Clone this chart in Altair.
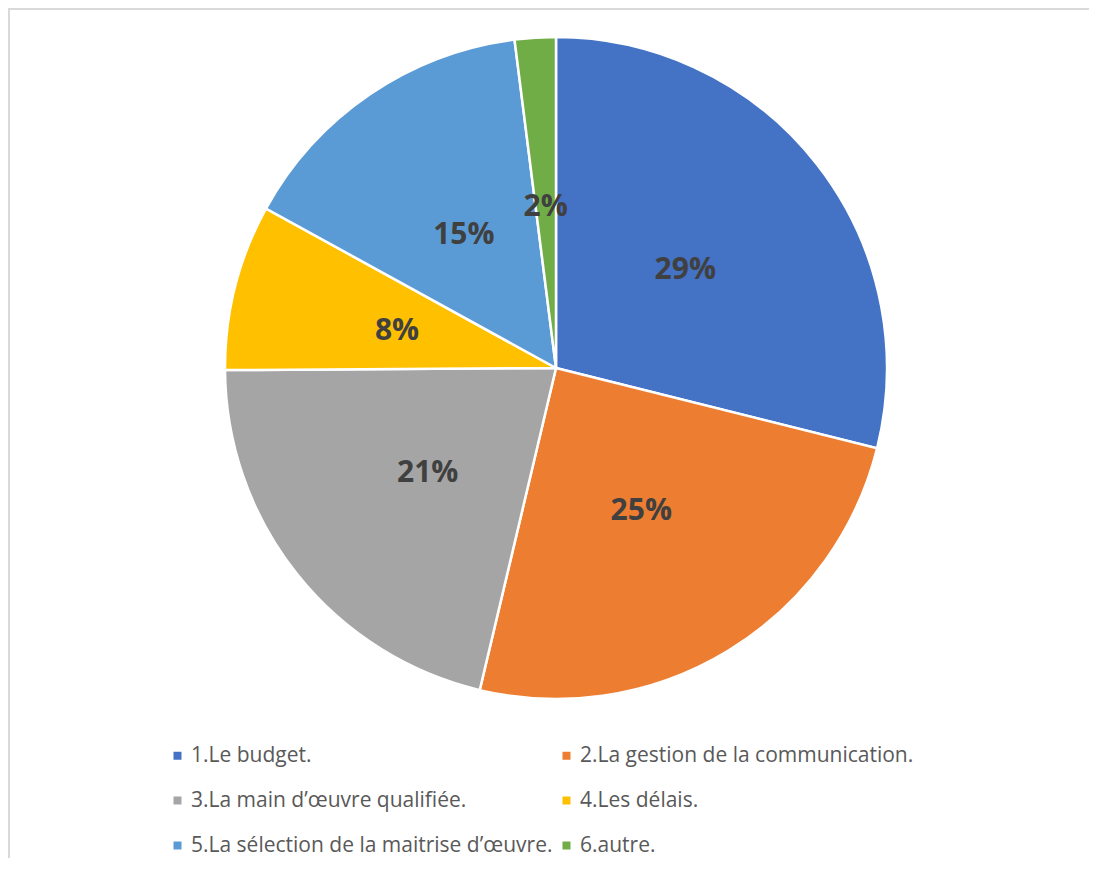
import altair as alt
import pandas as pd

categories = [
    "1.Le budget.",
    "2.La gestion de la communication.",
    "3.La main d\u2019\u0153uvre qualifi\u00e9e.",
    "4.Les d\u00e9lais.",
    "5.La s\u00e9lection de la maitrise d\u2019\u0153uvre.",
    "6.autre.",
]
values = [28.9, 24.8, 21.2, 8.1, 15.0, 2.0]
colors = ["#4472C4", "#ED7D31", "#A5A5A5", "#FFC000", "#5B9BD5", "#70AD47"]

df = pd.DataFrame({
    "cat": categories,
    "value": values,
    "order": list(range(len(categories))),
    "label": [f"{round(v)}%" for v in values],
})

base = alt.Chart(df).encode(
    theta=alt.Theta("value:Q", stack=True),
    order=alt.Order("order:Q"),
)

pie = base.mark_arc(outerRadius=331, stroke="white", strokeWidth=2.5).encode(
    color=alt.Color(
        "cat:N",
        title=None,
        scale=alt.Scale(domain=categories, range=colors),
        legend=alt.Legend(
            orient="none",
            legendX=-57,
            legendY=707,
            direction="horizontal",
            columns=2,
            columnPadding=3,
            rowPadding=23,
            padding=0,
            symbolType="square",
            symbolSize=64,
            symbolStrokeWidth=0,
            labelOffset=3,
            labelFont="Open Sans",
            labelFontSize=21,
            labelColor="#595959",
            labelLimit=500,
        ),
    )
)
text = base.mark_text(
    radius=164, font="Open Sans", fontSize=30, fontWeight="bold", dy=3
).encode(text="label:N", color=alt.value("#404040"))

border_df = pd.DataFrame({"k": [0]})
top_rule = alt.Chart(border_df).mark_rule(color="#d9d9d9", strokeWidth=2).encode(
    x=alt.value(-216), x2=alt.value(880), y=alt.value(-29)
)
left_rule = alt.Chart(border_df).mark_rule(color="#d9d9d9", strokeWidth=2).encode(
    x=alt.value(-215), y=alt.value(-30), y2=alt.value(830)
)

chart = alt.layer(pie, text, top_rule, left_rule).properties(
    width=664,
    height=660,
    padding={"left": 216, "top": 30, "right": 201, "bottom": 160},
    autosize=alt.AutoSizeParams(type="none"),
).configure_view(strokeWidth=0)

chart.save("out.html", embed_options={"renderer": "svg", "actions": False})
